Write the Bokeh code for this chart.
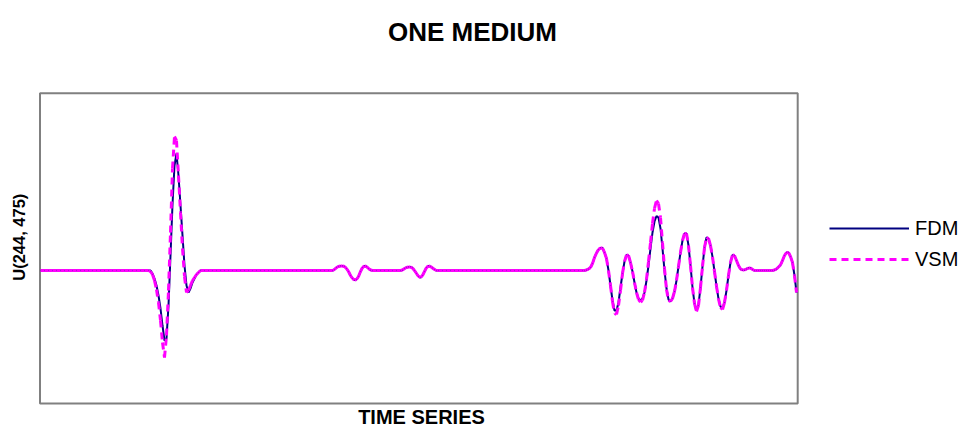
import math
from bokeh.plotting import figure
from bokeh.models import Range1d, Label, Legend, LegendItem, ColumnDataSource, BoxAnnotation
from bokeh.embed import file_html
from bokeh.resources import INLINE

# ---------------- data ----------------
title_text = "ONE MEDIUM"
x_title = "TIME SERIES"
y_title = "U(244, 475)"
series_names = ["FDM", "VSM"]

# plot-area limits (data units)
x_min, x_max = -0.5, 757.2
y_min, y_max = -1.33, 1.772

# sample times (flat stretches sampled every 4, active stretches every 2)
time = (list(range(0, 112, 4)) + list(range(110, 162, 2)) + list(range(164, 296, 4))
        + list(range(294, 334, 2)) + list(range(336, 364, 4)) + list(range(362, 400, 2))
        + list(range(402, 546, 4)) + list(range(544, 758, 2)))

quiet_a = [0.0] * 28
quiet_b = [0.0] * 33
quiet_c = [0.0] * 7
quiet_d = [0.0] * 36

pulse_fdm = [0.0, -0.03, -0.08, -0.15, -0.25, -0.38, -0.55, -0.70, -0.68, -0.35,
             0.15, 0.66, 1.05, 1.17, 0.95, 0.65, 0.35, 0.05, -0.15, -0.22,
             -0.18, -0.12, -0.08, -0.04, -0.02, 0.0]
pulse_vsm = [-0.01, -0.04, -0.10, -0.19, -0.32, -0.50, -0.72, -0.87, -0.65, -0.20,
             0.38, 1.02, 1.34, 1.30, 0.95, 0.58, 0.22, -0.06, -0.22, -0.20,
             -0.15, -0.10, -0.07, -0.04, -0.02, 0.0]

wiggle_1 = [0.01, 0.03, 0.04, 0.045, 0.045, 0.04, 0.02, -0.01, -0.05, -0.08,
            -0.095, -0.09, -0.06, -0.01, 0.03, 0.045, 0.04, 0.02, 0.005, 0.0]
wiggle_2 = [0.005, 0.02, 0.03, 0.035, 0.035, 0.025, 0.0, -0.03, -0.06, -0.07,
            -0.05, -0.01, 0.03, 0.045, 0.04, 0.025, 0.01, 0.0, 0.0]

train_fdm = [0.0, 0.005, 0.015, 0.03, 0.07, 0.13, 0.175, 0.21, 0.225, 0.225,
             0.18, 0.12, 0.0, -0.15, -0.30, -0.40, -0.40, -0.32, -0.17, -0.03,
             0.09, 0.155, 0.15, 0.08, -0.01, -0.12, -0.22, -0.28, -0.30, -0.28,
             -0.22, -0.10, 0.05, 0.22, 0.38, 0.49, 0.545, 0.53, 0.42, 0.22,
             0.0, -0.18, -0.29, -0.31, -0.28, -0.21, -0.10, 0.04, 0.18, 0.30,
             0.37, 0.37, 0.25, 0.05, -0.17, -0.33, -0.40, -0.34, -0.17, 0.04,
             0.23, 0.33, 0.32, 0.25, 0.136, -0.01, -0.157, -0.283, -0.36, -0.38,
             -0.32, -0.20, -0.05, 0.08, 0.155, 0.15, 0.10, 0.05, 0.015, 0.005,
             0.005, 0.015, 0.025, 0.025, 0.01, 0.0,
             0.0, 0.0, 0.0, 0.0, 0.0, 0.0, 0.0, 0.0, 0.0,
             0.005, 0.015, 0.035, 0.055, 0.10, 0.15, 0.18, 0.18, 0.14, 0.08,
             -0.05, -0.22]
train_vsm = [0.0, 0.005, 0.015, 0.03, 0.07, 0.13, 0.175, 0.21, 0.225, 0.225,
             0.18, 0.12, 0.0, -0.15, -0.31, -0.43, -0.44, -0.35, -0.20, -0.03,
             0.09, 0.155, 0.15, 0.08, -0.01, -0.12, -0.22, -0.29, -0.315, -0.30,
             -0.22, -0.09, 0.09, 0.28, 0.47, 0.62, 0.70, 0.67, 0.53, 0.28,
             0.02, -0.19, -0.30, -0.31, -0.28, -0.21, -0.10, 0.04, 0.18, 0.30,
             0.37, 0.37, 0.25, 0.05, -0.17, -0.33, -0.41, -0.35, -0.17, 0.04,
             0.23, 0.33, 0.32, 0.25, 0.136, -0.01, -0.157, -0.283, -0.37, -0.39,
             -0.32, -0.20, -0.05, 0.08, 0.155, 0.15, 0.10, 0.05, 0.015, 0.005,
             0.005, 0.015, 0.025, 0.025, 0.01, 0.0,
             0.0, 0.0, 0.0, 0.0, 0.0, 0.0, 0.0, 0.0, 0.0,
             0.005, 0.015, 0.035, 0.055, 0.10, 0.15, 0.18, 0.18, 0.14, 0.08,
             -0.05, -0.22]

fdm = quiet_a + pulse_fdm + quiet_b + wiggle_1 + quiet_c + wiggle_2 + quiet_d + train_fdm
vsm = quiet_a + pulse_vsm + quiet_b + wiggle_1 + quiet_c + wiggle_2 + quiet_d + train_vsm

# ---------------- figure ----------------
W, H = 960, 428
# canvas-wide frame: 1 x-unit per px, 100 px per y-unit
p = figure(width=W, height=H, output_backend="svg", toolbar_location=None,
           x_axis_location=None, y_axis_location=None,
           x_range=Range1d(-40, W - 40), y_range=Range1d(2.70 - H / 100, 2.70),
           min_border=0)
p.grid.visible = False
p.outline_line_color = None
p.background_fill_color = "white"
p.border_fill_color = "white"

FONT = "Liberation Sans"

# plot area box
p.add_layout(BoxAnnotation(left=x_min, right=x_max, bottom=y_min, top=y_max,
                           fill_alpha=0, line_color="#808080", line_alpha=1.0,
                           line_width=2, level="underlay"))

r_fdm = p.line(time, fdm, line_color="#000080", line_width=2)
seg = ColumnDataSource(dict(x0=time[:-1], y0=vsm[:-1], x1=time[1:], y1=vsm[1:]))
r_vsm = p.segment(x0="x0", y0="y0", x1="x1", y1="y1", source=seg,
                  line_color="#FF00FF", line_width=3, line_dash="7 5")

legend = Legend(items=[LegendItem(label=series_names[0], renderers=[r_fdm]),
                       LegendItem(label=series_names[1], renderers=[r_vsm])],
                location=(829, 157.5), padding=0, margin=0, spacing=8,
                glyph_width=80, glyph_height=20, label_height=20, label_standoff=6,
                label_text_font=FONT, label_text_font_size="20px", label_text_color="black",
                border_line_color=None, background_fill_alpha=0)
p.add_layout(legend, "center")

p.add_layout(Label(x=472, y=H - 31.7, x_units="screen", y_units="screen", text=title_text,
                   text_font=FONT, text_font_style="bold", text_font_size="26px",
                   text_align="center", text_baseline="alphabetic", text_color="black"))
p.add_layout(Label(x=421, y=H - 416.5, x_units="screen", y_units="screen", text=x_title,
                   text_font=FONT, text_font_style="bold", text_font_size="20px",
                   text_align="center", text_baseline="alphabetic", text_color="black"))
p.add_layout(Label(x=18.8, y=H - 236.7, x_units="screen", y_units="screen", text=y_title,
                   angle=math.pi / 2, text_font=FONT, text_font_style="bold",
                   text_font_size="16.5px", text_align="center", text_baseline="middle",
                   text_color="black"))

open("out.html", "w").write(file_html(p, INLINE))
